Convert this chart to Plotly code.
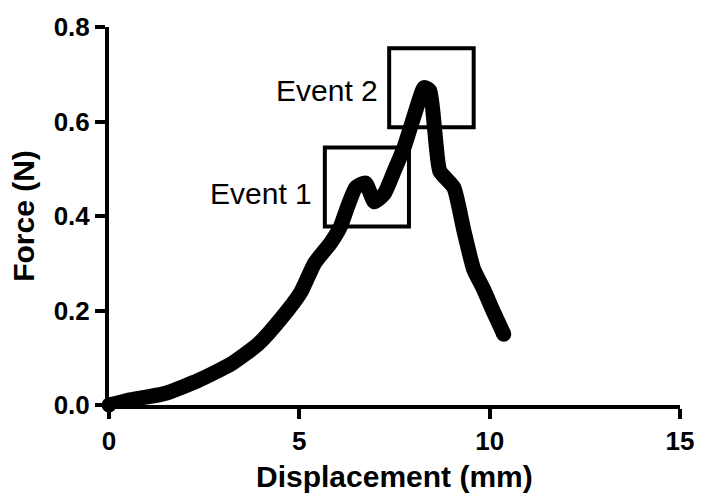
import plotly.graph_objects as go

# Force-displacement data
displacement = [0.0, 0.5, 1.0, 1.49, 2.35, 3.21, 3.92, 4.52, 5.04, 5.40, 5.82, 6.08, 6.27, 6.48,
                6.74, 6.97, 7.23, 7.49, 7.75, 8.02, 8.28, 8.43, 8.56, 8.69, 9.06, 9.32, 9.58,
                9.84, 10.10, 10.37]
force = [0.0, 0.010, 0.017, 0.025, 0.052, 0.087, 0.129, 0.183, 0.239, 0.300, 0.343, 0.378, 0.420, 0.460,
         0.470, 0.430, 0.447, 0.495, 0.545, 0.613, 0.672, 0.665, 0.578, 0.495, 0.460, 0.370, 0.287,
         0.245, 0.197, 0.150]

# Event boxes [x0, x1, y0, y1] and labels
event_names = ["Event 1", "Event 2"]
box_x0 = [5.67, 7.36]
box_x1 = [7.88, 9.58]
box_y0 = [0.378, 0.588]
box_y1 = [0.545, 0.755]
label_x = [5.38, 7.12]
label_y = [0.447, 0.665]

x_ticks = [0, 5, 10, 15]
y_ticks = [0.0, 0.2, 0.4, 0.6, 0.8]
y_tick_text = ["0.0", "0.2", "0.4", "0.6", "0.8"]

x_title = "Displacement (mm)"
y_title = "Force (N)"

FONT = "Liberation Sans, Arial, sans-serif"

fig = go.Figure()
fig.add_trace(go.Scatter(
    x=displacement, y=force, mode="lines",
    line=dict(color="black", width=15, shape="spline", smoothing=0.5),
    cliponaxis=False, showlegend=False, hoverinfo="skip"))
# round end caps
fig.add_trace(go.Scatter(
    x=[displacement[0], displacement[-1]], y=[force[0], force[-1]], mode="markers",
    marker=dict(color="black", size=15), cliponaxis=False, showlegend=False, hoverinfo="skip"))

for i in range(len(event_names)):
    fig.add_shape(type="rect", xref="x", yref="y",
                  x0=box_x0[i], x1=box_x1[i], y0=box_y0[i], y1=box_y1[i],
                  line=dict(color="black", width=4), fillcolor="rgba(0,0,0,0)")
    fig.add_annotation(x=label_x[i], y=label_y[i], xref="x", yref="y",
                       text=event_names[i], showarrow=False, xanchor="right", yanchor="middle",
                       font=dict(family=FONT, size=30, color="black"))

# x-axis title placed as annotation to match vertical position
fig.add_annotation(x=0.5, y=-0.188, xref="paper", yref="paper", text=f"<b>{x_title}</b>",
                   showarrow=False, xanchor="center", yanchor="middle",
                   font=dict(family=FONT, size=30, color="black"))

axis_common = dict(showline=True, linecolor="black", linewidth=4, ticks="outside",
                   ticklen=10, tickwidth=4, tickcolor="black", showgrid=False, zeroline=False,
                   tickfont=dict(family=FONT, size=26, color="black", weight="bold"))

fig.update_xaxes(range=[0, 15], tickvals=x_ticks, ticktext=[str(v) for v in x_ticks], **axis_common)
fig.update_yaxes(range=[0, 0.8], tickvals=y_ticks, ticktext=y_tick_text,
                 title=dict(text=y_title, font=dict(family=FONT, size=30, color="black", weight="bold"),
                            standoff=11),
                 **axis_common)

fig.update_layout(width=706, height=502, margin=dict(l=109, r=19, t=20, b=97),
                  plot_bgcolor="white", paper_bgcolor="white")

fig.write_html("out.html")
